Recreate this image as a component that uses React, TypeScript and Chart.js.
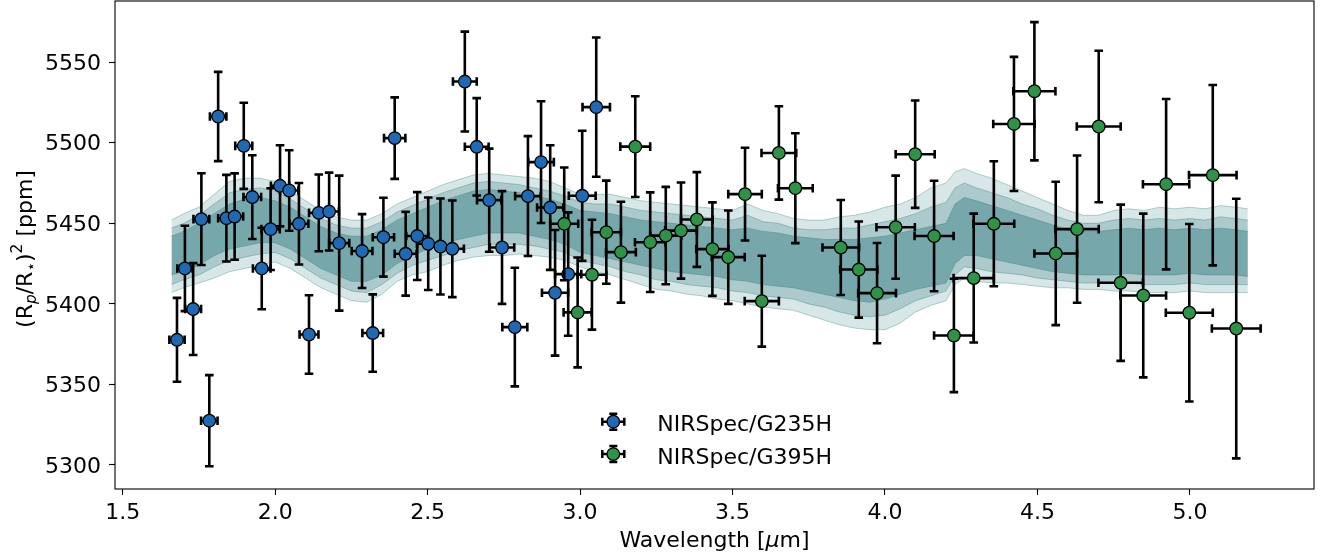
import React, { useEffect, useRef } from 'react';
import { Chart, registerables } from 'chart.js';

Chart.register(...registerables);

const FONT_FAMILY = '"DejaVu Sans", sans-serif';

// ---------- NIRSpec/G235H ----------
const g235Wave = [1.678, 1.704, 1.731, 1.758, 1.784, 1.813, 1.840, 1.867, 1.897, 1.925, 1.956, 1.985, 2.016, 2.046, 2.078, 2.111, 2.143, 2.177, 2.210, 2.285, 2.320, 2.355, 2.392, 2.428, 2.466, 2.502, 2.542, 2.581, 2.622, 2.661, 2.702, 2.744, 2.786, 2.829, 2.872, 2.902, 2.918, 2.961, 3.007, 3.053];
const g235Depth = [5377.7, 5422, 5396.8, 5452.6, 5327.5, 5516.3, 5453.2, 5454.2, 5498.1, 5466.3, 5422, 5446.4, 5473.3, 5470.4, 5449.7, 5381, 5456.5, 5457.3, 5437.7, 5432.8, 5381.9, 5441.4, 5502.9, 5431.1, 5442.1, 5437.3, 5435.6, 5434.2, 5538, 5497.5, 5464.4, 5435, 5385.6, 5466.9, 5488, 5459.8, 5406.9, 5418.5, 5467.1, 5522.1];
const g235Err = [26, 26.5, 28.5, 28.5, 28.3, 27.7, 26.9, 26.8, 26.7, 26, 25.3, 25.4, 25.2, 25, 25.3, 24.4, 23.8, 24.2, 41.9, 22.9, 24, 24.5, 25.3, 26, 27.3, 28.7, 29.8, 30, 31, 30.2, 32, 35, 36.8, 37.2, 37.8, 38.7, 39, 38.3, 40.4, 43.2];
const g235WaveErr = [0.025, 0.025, 0.026, 0.026, 0.027, 0.027, 0.027, 0.028, 0.028, 0.029, 0.029, 0.030, 0.030, 0.030, 0.031, 0.031, 0.032, 0.032, 0.033, 0.034, 0.034, 0.035, 0.035, 0.036, 0.036, 0.037, 0.037, 0.038, 0.039, 0.039, 0.040, 0.040, 0.041, 0.042, 0.042, 0.043, 0.043, 0.043, 0.044, 0.045];

// ---------- NIRSpec/G395H ----------
const g395Wave = [2.948, 2.992, 3.039, 3.086, 3.134, 3.181, 3.230, 3.281, 3.331, 3.383, 3.434, 3.486, 3.541, 3.596, 3.652, 3.706, 3.855, 3.914, 3.974, 4.035, 4.099, 4.161, 4.226, 4.291, 4.357, 4.423, 4.490, 4.560, 4.630, 4.701, 4.773, 4.847, 4.922, 4.998, 5.075, 5.152];
const g395Depth = [5449.7, 5394.7, 5418.1, 5444.5, 5432.1, 5497.6, 5438.3, 5442.4, 5445.5, 5452.4, 5434, 5429, 5468.1, 5401.7, 5493.7, 5471.8, 5435, 5421.3, 5406.7, 5447.6, 5492.9, 5442.1, 5380.4, 5416, 5449.7, 5511.7, 5532, 5431.3, 5446.4, 5510.1, 5413.1, 5405.2, 5474.3, 5394.5, 5479.9, 5384.7];
const g395Err = [35, 34.1, 34.1, 32, 31.3, 31.3, 30.9, 30.2, 29.8, 29.4, 29, 29, 28.8, 28.2, 29, 34.1, 29.5, 29.8, 31.1, 32, 33.3, 34.3, 35.2, 40, 38.8, 41.6, 42.9, 44.5, 45.7, 47, 48.5, 50.8, 52.9, 55.1, 56, 80.6];
const g395WaveErr = [0.046, 0.046, 0.047, 0.048, 0.049, 0.049, 0.050, 0.051, 0.052, 0.052, 0.053, 0.054, 0.055, 0.056, 0.057, 0.057, 0.060, 0.061, 0.062, 0.063, 0.064, 0.064, 0.065, 0.066, 0.067, 0.068, 0.069, 0.070, 0.071, 0.072, 0.073, 0.075, 0.076, 0.077, 0.078, 0.080];

const modelWave = [1.66, 1.70, 1.75, 1.80, 1.85, 1.90, 1.95, 2.00, 2.05, 2.10, 2.15, 2.20, 2.25, 2.30, 2.35, 2.40, 2.45, 2.50, 2.55, 2.60, 2.65, 2.70, 2.75, 2.80, 2.85, 2.90, 2.95, 3.00, 3.05, 3.10, 3.15, 3.20, 3.25, 3.30, 3.35, 3.40, 3.45, 3.50, 3.55, 3.60, 3.65, 3.70, 3.75, 3.80, 3.85, 3.90, 3.95, 4.00, 4.05, 4.10, 4.15, 4.20, 4.23, 4.26, 4.30, 4.35, 4.40, 4.45, 4.50, 4.55, 4.60, 4.65, 4.70, 4.75, 4.80, 4.85, 4.90, 4.95, 5.00, 5.05, 5.10, 5.15, 5.19];
const modelOuterHigh = [5452, 5456, 5460, 5468, 5476, 5478, 5478, 5476, 5470, 5464, 5458, 5454, 5452, 5452, 5456, 5462, 5466, 5470, 5474, 5477, 5480, 5481, 5480, 5479, 5478, 5476, 5472, 5468, 5468, 5468, 5466, 5464, 5463, 5462, 5461, 5460, 5459, 5458, 5462, 5458, 5456, 5453, 5452, 5452, 5454, 5455, 5457, 5460, 5462, 5466, 5472, 5475, 5482, 5484, 5481, 5478, 5474, 5470, 5466, 5462, 5458, 5455, 5455, 5458, 5459, 5458, 5460, 5459, 5460, 5459, 5461, 5460, 5459];
const modelUpperMid = [5447, 5450, 5455, 5462, 5469, 5471, 5472, 5470, 5465, 5459, 5453, 5449, 5447, 5447, 5451, 5457, 5461, 5465, 5469, 5472, 5475, 5476, 5475, 5474, 5472, 5470, 5467, 5463, 5462, 5462, 5460, 5458, 5457, 5456, 5455, 5454, 5453, 5452, 5455, 5451, 5450, 5447, 5446, 5446, 5447, 5447, 5449, 5451, 5453, 5456, 5460, 5463, 5472, 5475, 5472, 5469, 5466, 5462, 5459, 5455, 5452, 5450, 5450, 5452, 5453, 5452, 5453, 5452, 5453, 5452, 5454, 5453, 5452];
const modelInnerHigh = [5442, 5445, 5450, 5456, 5462, 5465, 5466, 5464, 5460, 5454, 5448, 5444, 5442, 5442, 5446, 5452, 5456, 5460, 5464, 5467, 5470, 5471, 5470, 5469, 5467, 5465, 5462, 5458, 5457, 5456, 5454, 5452, 5451, 5450, 5449, 5448, 5447, 5446, 5447, 5445, 5444, 5442, 5441, 5440, 5440, 5440, 5441, 5442, 5444, 5446, 5448, 5450, 5462, 5466, 5464, 5461, 5458, 5455, 5452, 5449, 5446, 5445, 5445, 5446, 5447, 5446, 5447, 5446, 5447, 5446, 5447, 5446, 5445];
const modelInnerLow = [5418, 5420, 5424, 5430, 5434, 5436, 5438, 5438, 5434, 5428, 5422, 5418, 5414, 5414, 5418, 5425, 5430, 5434, 5437, 5440, 5442, 5444, 5444, 5444, 5442, 5440, 5437, 5432, 5430, 5428, 5426, 5424, 5422, 5420, 5419, 5418, 5417, 5415, 5414, 5412, 5411, 5410, 5408, 5406, 5404, 5402, 5401, 5403, 5406, 5409, 5411, 5413, 5425, 5430, 5430, 5428, 5426, 5424, 5422, 5420, 5419, 5418, 5418, 5418, 5419, 5418, 5418, 5418, 5419, 5418, 5418, 5418, 5417];
const modelLowerMid = [5412, 5415, 5418, 5423, 5427, 5429, 5431, 5432, 5428, 5422, 5416, 5412, 5408, 5407, 5412, 5419, 5424, 5427, 5430, 5433, 5435, 5437, 5437, 5437, 5436, 5434, 5432, 5427, 5425, 5423, 5420, 5418, 5415, 5414, 5412, 5411, 5410, 5408, 5407, 5405, 5404, 5403, 5400, 5398, 5395, 5393, 5392, 5393, 5397, 5402, 5405, 5408, 5418, 5423, 5422, 5420, 5419, 5418, 5416, 5415, 5414, 5413, 5413, 5413, 5413, 5412, 5412, 5412, 5413, 5412, 5412, 5412, 5412];
const modelOuterLow = [5407, 5410, 5413, 5416, 5420, 5422, 5424, 5426, 5422, 5416, 5410, 5406, 5402, 5401, 5406, 5414, 5418, 5420, 5424, 5427, 5429, 5430, 5430, 5431, 5430, 5429, 5427, 5423, 5420, 5418, 5415, 5412, 5409, 5408, 5406, 5405, 5403, 5402, 5400, 5398, 5397, 5396, 5393, 5390, 5387, 5385, 5384, 5384, 5388, 5395, 5399, 5402, 5412, 5416, 5414, 5413, 5413, 5412, 5411, 5410, 5410, 5409, 5409, 5408, 5408, 5407, 5407, 5407, 5408, 5407, 5407, 5407, 5407];

// ---------- axes ----------
const X_MIN = 1.4747;
const X_MAX = 5.407;
const Y_MIN = 5285.1;
const Y_MAX = 5588.0;
const X_STEP = 0.5;
const Y_STEP = 50;

const BLUE = '#1f68b3';
const GREEN = '#2e9349';
const TEAL = '74,140,143';

const xy = (xs: number[], ys: number[]) => xs.map((x, i) => ({ x, y: ys[i] }));

type Seg = { t: string; size: number; italic?: boolean; dy?: number };

function drawRich(ctx: CanvasRenderingContext2D, segs: Seg[], cx: number, baseline: number) {
  const widths = segs.map((s) => {
    ctx.font = `${s.italic ? 'italic ' : ''}${s.size}px ${FONT_FAMILY}`;
    return ctx.measureText(s.t).width;
  });
  const total = widths.reduce((a, b) => a + b, 0);
  let x = cx - total / 2;
  segs.forEach((s, i) => {
    ctx.font = `${s.italic ? 'italic ' : ''}${s.size}px ${FONT_FAMILY}`;
    ctx.fillText(s.t, x, baseline + (s.dy || 0));
    x += widths[i];
  });
}

function drawErrSymbol(ctx: CanvasRenderingContext2D, x: number, y: number, color: string) {
  ctx.save();
  ctx.strokeStyle = '#000';
  ctx.lineWidth = 2.5;
  ctx.beginPath();
  ctx.moveTo(x, y - 8); ctx.lineTo(x, y + 8);
  ctx.moveTo(x - 11, y); ctx.lineTo(x + 11, y);
  ctx.moveTo(x - 4, y - 8); ctx.lineTo(x + 4, y - 8);
  ctx.moveTo(x - 4, y + 8); ctx.lineTo(x + 4, y + 8);
  ctx.moveTo(x - 11, y - 4); ctx.lineTo(x - 11, y + 4);
  ctx.moveTo(x + 11, y - 4); ctx.lineTo(x + 11, y + 4);
  ctx.stroke();
  ctx.beginPath();
  ctx.arc(x, y, 6.3, 0, Math.PI * 2);
  ctx.fillStyle = color;
  ctx.fill();
  ctx.lineWidth = 1.3;
  ctx.stroke();
  ctx.restore();
}

const errorBarPlugin = {
  id: 'errorBars',
  beforeDatasetDraw(chart: any, args: any) {
    const ds = chart.data.datasets[args.index];
    if (!ds.errY) return;
    const { ctx, chartArea } = chart;
    const xs = chart.scales.x;
    const ys = chart.scales.y;
    ctx.save();
    ctx.beginPath();
    ctx.rect(chartArea.left, chartArea.top, chartArea.right - chartArea.left, chartArea.bottom - chartArea.top);
    ctx.clip();
    ctx.strokeStyle = '#000';
    ctx.lineWidth = 2.6;
    const cap = 4.3;
    ds.data.forEach((p: any, i: number) => {
      const px = xs.getPixelForValue(p.x);
      const py = ys.getPixelForValue(p.y);
      const x0 = xs.getPixelForValue(p.x - ds.errX[i]);
      const x1 = xs.getPixelForValue(p.x + ds.errX[i]);
      const y0 = ys.getPixelForValue(p.y - ds.errY[i]);
      const y1 = ys.getPixelForValue(p.y + ds.errY[i]);
      ctx.beginPath();
      ctx.moveTo(px, y0); ctx.lineTo(px, y1);
      ctx.moveTo(x0, py); ctx.lineTo(x1, py);
      ctx.moveTo(px - cap, y0); ctx.lineTo(px + cap, y0);
      ctx.moveTo(px - cap, y1); ctx.lineTo(px + cap, y1);
      ctx.moveTo(x0, py - cap); ctx.lineTo(x0, py + cap);
      ctx.moveTo(x1, py - cap); ctx.lineTo(x1, py + cap);
      ctx.stroke();
    });
    ctx.restore();
  },
};

const decorPlugin = {
  id: 'decor',
  afterDatasetsDraw(chart: any) {
    const { ctx, chartArea } = chart;
    ctx.save();
    ctx.strokeStyle = '#000';
    ctx.lineWidth = 1.1;
    ctx.strokeRect(chartArea.left, chartArea.top, chartArea.right - chartArea.left, chartArea.bottom - chartArea.top);
    ctx.restore();
  },
  afterDraw(chart: any) {
    const { ctx, chartArea } = chart;
    ctx.save();
    ctx.fillStyle = '#000';
    ctx.textBaseline = 'alphabetic';
    ctx.textAlign = 'left';
    // x title
    drawRich(ctx, [
      { t: 'Wavelength [', size: 22 },
      { t: '\u03bc', size: 22, italic: true },
      { t: 'm]', size: 22 },
    ], (chartArea.left + chartArea.right) / 2, 546.7);
    // y title
    ctx.save();
    ctx.translate(31.5, (chartArea.top + chartArea.bottom) / 2 + 4);
    ctx.rotate(-Math.PI / 2);
    drawRich(ctx, [
      { t: '(R', size: 22 },
      { t: 'p', size: 15.4, italic: true, dy: 4.8 },
      { t: '/R', size: 22 },
      { t: '\u22c6', size: 15.4, dy: 4.8 },
      { t: ')', size: 22 },
      { t: '2', size: 15.4, dy: -9.5 },
      { t: ' [ppm]', size: 22 },
    ], 0, 0);
    ctx.restore();
    // legend
    const legendItems = [
      { label: 'NIRSpec/G235H', color: BLUE },
      { label: 'NIRSpec/G395H', color: GREEN },
    ];
    const symX = chartArea.left + 498.3;
    const textX = chartArea.left + 542.3;
    legendItems.forEach((it, i) => {
      const cy = 421.7 + i * 32.4;
      drawErrSymbol(ctx, symX, cy, it.color);
      ctx.font = `22px ${FONT_FAMILY}`;
      ctx.fillStyle = '#000';
      ctx.fillText(it.label, textX, cy + 9.5);
    });
    ctx.restore();
  },
};

export default function App() {
  const canvasRef = useRef<HTMLCanvasElement | null>(null);

  useEffect(() => {
    document.body.style.margin = '0';
    const canvas = canvasRef.current;
    if (!canvas) return;

    const lineBase = {
      type: 'line' as const,
      showLine: true,
      pointRadius: 0,
      pointHoverRadius: 0,
      tension: 0,
      borderWidth: 1,
    };

    const chart = new Chart(canvas, {
      type: 'scatter',
      data: {
        datasets: [
          {
            ...lineBase,
            label: 'model outer high',
            data: xy(modelWave, modelOuterHigh),
            borderColor: `rgba(${TEAL},0.4)`,
            backgroundColor: `rgba(${TEAL},0.22)`,
            fill: 5,
            order: 16,
          },
          {
            ...lineBase,
            label: 'model upper mid',
            data: xy(modelWave, modelUpperMid),
            borderColor: `rgba(${TEAL},0.45)`,
            backgroundColor: `rgba(${TEAL},0.3)`,
            fill: 4,
            order: 15,
          },
          {
            ...lineBase,
            label: 'model inner high',
            data: xy(modelWave, modelInnerHigh),
            borderColor: `rgba(${TEAL},0.55)`,
            backgroundColor: `rgba(${TEAL},0.55)`,
            fill: 3,
            order: 14,
          },
          {
            ...lineBase,
            label: 'model inner low',
            data: xy(modelWave, modelInnerLow),
            borderColor: `rgba(${TEAL},0.55)`,
            fill: false,
            order: 13,
          },
          {
            ...lineBase,
            label: 'model lower mid',
            data: xy(modelWave, modelLowerMid),
            borderColor: `rgba(${TEAL},0.45)`,
            fill: false,
            order: 12,
          },
          {
            ...lineBase,
            label: 'model outer low',
            data: xy(modelWave, modelOuterLow),
            borderColor: `rgba(${TEAL},0.4)`,
            fill: false,
            order: 11,
          },
          {
            label: 'NIRSpec/G235H',
            data: xy(g235Wave, g235Depth),
            errY: g235Err,
            errX: g235WaveErr,
            pointRadius: 6.3,
            pointHoverRadius: 6.3,
            pointBackgroundColor: BLUE,
            pointBorderColor: '#000',
            pointBorderWidth: 1.3,
            showLine: false,
            order: 2,
          } as any,
          {
            label: 'NIRSpec/G395H',
            data: xy(g395Wave, g395Depth),
            errY: g395Err,
            errX: g395WaveErr,
            pointRadius: 6.3,
            pointHoverRadius: 6.3,
            pointBackgroundColor: GREEN,
            pointBorderColor: '#000',
            pointBorderWidth: 1.3,
            showLine: false,
            order: 1,
          } as any,
        ],
      },
      options: {
        animation: false,
        responsive: false,
        maintainAspectRatio: false,
        layout: { autoPadding: false, padding: { left: 0, right: 16, top: 1, bottom: 0 } },
        plugins: {
          legend: { display: false },
          tooltip: { enabled: false },
        },
        scales: {
          x: {
            type: 'linear',
            min: X_MIN,
            max: X_MAX,
            border: { display: false },
            grid: {
              display: true,
              drawOnChartArea: false,
              drawTicks: true,
              tickLength: 6,
              tickWidth: 1.1,
              tickColor: '#000',
            },
            ticks: {
              stepSize: X_STEP,
              includeBounds: false,
              autoSkip: false,
              maxRotation: 0,
              padding: 5,
              color: '#000',
              font: { family: FONT_FAMILY, size: 22 },
              callback: (v: any) => Number(v).toFixed(1),
            },
            afterFit: (s: any) => {
              s.height = 69;
              s.paddingLeft = 0;
              s.paddingRight = 0;
            },
          },
          y: {
            type: 'linear',
            min: Y_MIN,
            max: Y_MAX,
            border: { display: false },
            grid: {
              display: true,
              drawOnChartArea: false,
              drawTicks: true,
              tickLength: 6,
              tickWidth: 1.1,
              tickColor: '#000',
            },
            ticks: {
              stepSize: Y_STEP,
              includeBounds: false,
              autoSkip: false,
              padding: 8,
              labelOffset: 2,
              color: '#000',
              font: { family: FONT_FAMILY, size: 22 },
              callback: (v: any) => String(Math.round(Number(v))),
            },
            afterFit: (s: any) => {
              s.width = 115;
              s.paddingTop = 0;
              s.paddingBottom = 0;
            },
          },
        },
      },
      plugins: [errorBarPlugin, decorPlugin],
    } as any);

    return () => {
      chart.destroy();
    };
  }, []);

  return (
    <div style={{ position: 'absolute', left: 0, top: 0, width: 1330, height: 558, background: '#fff' }}>
      <canvas ref={canvasRef} width={1330} height={558} style={{ display: 'block', width: 1330, height: 558 }} />
    </div>
  );
}
